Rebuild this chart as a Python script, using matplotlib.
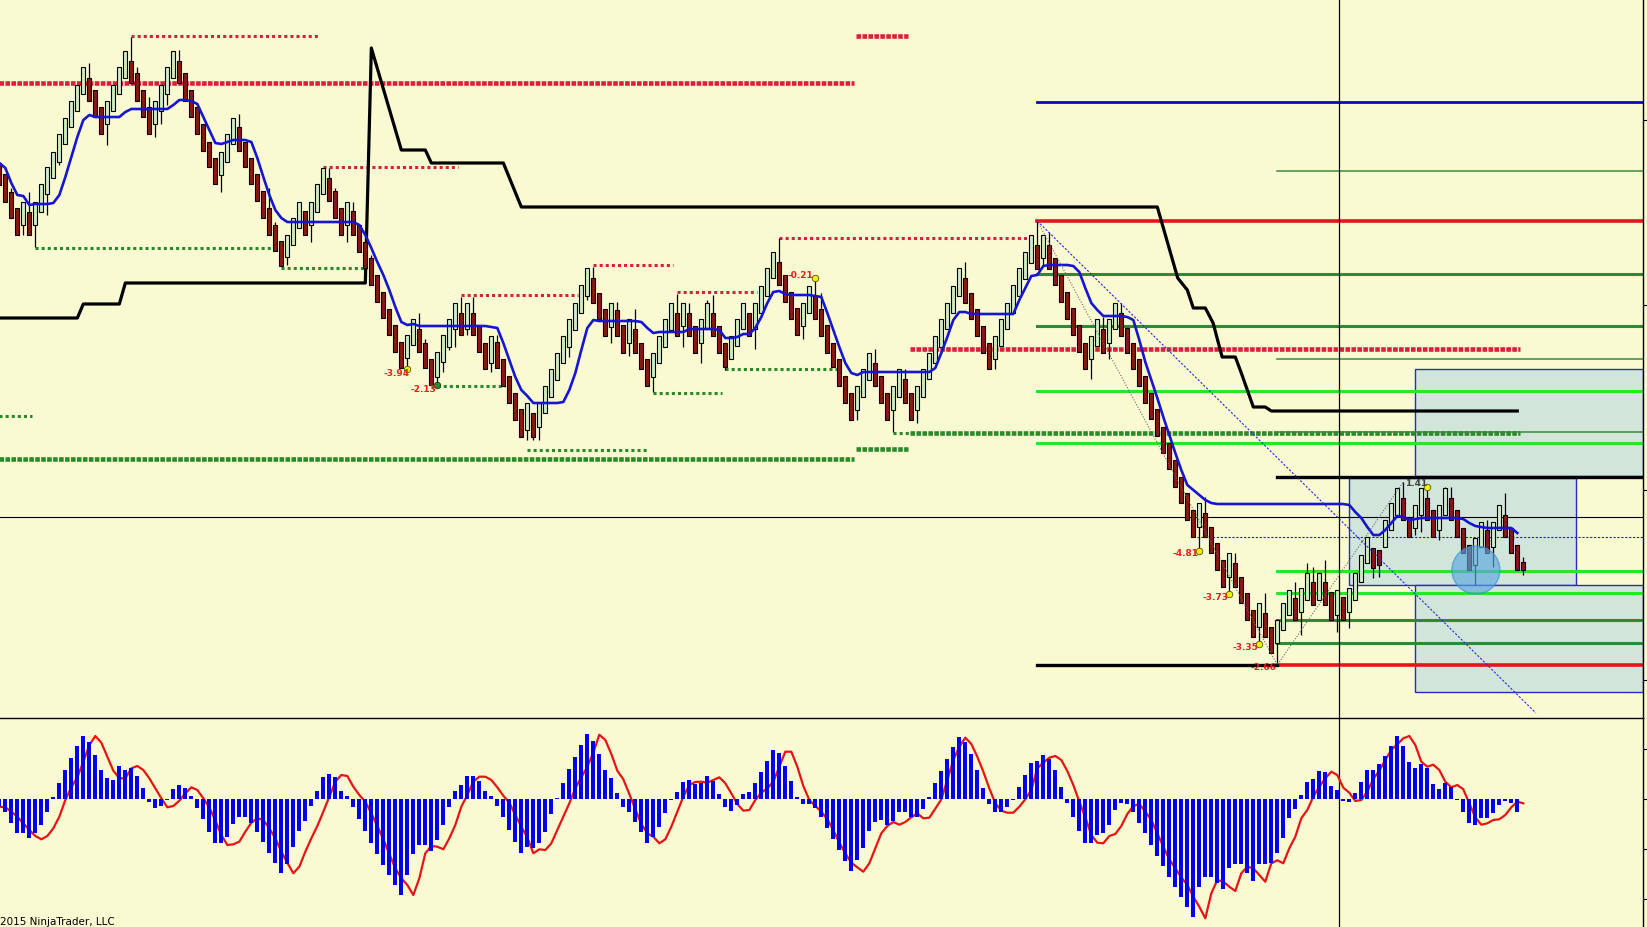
"""Renko-style price chart with swing levels, projection lines and an oscillator panel."""

import matplotlib

matplotlib.use("Agg")
import matplotlib.pyplot as plt
from matplotlib.patches import Ellipse, Rectangle

BG = "#fafad2"

# ---- price bars (one entry per bar) ----
opens = [
    537, 526, 508, 492, 475, 488, 475, 488, 506, 522,
    538, 556, 573, 589, 606, 622, 610, 593, 576, 589,
    606, 622, 639, 627, 610, 593, 576, 589, 606, 622,
    639, 627, 610, 593, 576, 558, 542, 525, 538, 556,
    573, 558, 542, 526, 509, 492, 475, 459, 443, 455,
    472, 489, 475, 488, 506, 522, 509, 492, 475, 489,
    475, 458, 442, 425, 408, 391, 375, 358, 342, 355,
    371, 357, 341, 323, 338, 353, 371, 387, 371, 387,
    375, 357, 337, 358, 341, 324, 307, 291, 270, 287,
    273, 287, 303, 320, 337, 353, 370, 387, 404, 422,
    407, 391, 373, 390, 375, 357, 371, 357, 341, 323,
    337, 353, 370, 387, 374, 387, 374, 357, 371, 387,
    374, 357, 341, 354, 371, 387, 371, 387, 404, 422,
    438, 425, 408, 392, 374, 387, 404, 391, 375, 357,
    341, 324, 307, 290, 303, 320, 337, 324, 307, 290,
    303, 321, 307, 290, 303, 321, 337, 353, 371, 387,
    404, 422, 407, 391, 374, 357, 341, 354, 371, 387,
    404, 421, 437, 455, 442, 455, 442, 425, 408, 392,
    375, 357, 341, 354, 371, 357, 371, 387, 372, 357,
    341, 324, 307, 291, 273, 257, 240, 223, 207, 190,
    173, 187, 173, 157, 140, 123, 137, 123, 107, 90,
    73, 87, 73, 57, 70, 85, 102, 88, 100, 118,
    100, 118, 108, 85, 103, 88, 100, 118, 137, 152,
    150, 153, 170, 185, 202, 183, 172, 185, 202, 190,
    170, 185, 202, 190, 172, 155, 135, 153, 170, 153,
    170, 185, 172, 155, 138,
]
closes = [
    515, 498, 482, 465, 498, 465, 498, 516, 533, 548,
    566, 582, 599, 615, 633, 599, 583, 566, 599, 615,
    633, 649, 617, 599, 583, 566, 599, 615, 633, 649,
    617, 599, 583, 566, 549, 533, 516, 548, 566, 582,
    549, 533, 516, 499, 482, 465, 449, 434, 465, 482,
    498, 465, 498, 516, 532, 499, 482, 465, 498, 465,
    448, 432, 415, 398, 382, 365, 348, 332, 365, 381,
    348, 332, 315, 348, 365, 381, 397, 365, 397, 365,
    348, 331, 364, 332, 314, 297, 280, 263, 297, 263,
    297, 314, 331, 347, 364, 381, 397, 415, 432, 397,
    381, 364, 397, 364, 347, 381, 347, 331, 314, 347,
    364, 381, 397, 364, 397, 364, 347, 381, 397, 364,
    347, 333, 364, 381, 397, 364, 397, 414, 432, 448,
    415, 398, 381, 365, 397, 414, 381, 364, 347, 333,
    314, 297, 280, 314, 331, 347, 314, 297, 280, 314,
    331, 297, 280, 314, 331, 347, 364, 381, 397, 414,
    432, 397, 381, 364, 347, 331, 364, 381, 397, 415,
    432, 448, 465, 431, 465, 431, 415, 398, 381, 365,
    348, 331, 364, 381, 347, 381, 397, 364, 347, 331,
    314, 297, 281, 264, 247, 231, 213, 197, 180, 163,
    197, 163, 147, 130, 113, 147, 113, 97, 80, 63,
    97, 63, 47, 80, 97, 110, 80, 112, 127, 95,
    127, 95, 80, 110, 80, 112, 127, 145, 163, 132,
    135, 180, 197, 212, 180, 163, 195, 212, 180, 163,
    195, 212, 180, 163, 147, 130, 162, 178, 147, 178,
    195, 163, 147, 130, 130,
]
highs = [
    537, 526, 512, 492, 498, 508, 498, 516, 533, 548,
    566, 582, 599, 615, 633, 637, 610, 593, 599, 615,
    633, 649, 663, 633, 610, 603, 599, 615, 633, 649,
    650, 627, 610, 593, 576, 558, 542, 548, 566, 582,
    586, 558, 542, 526, 509, 512, 478, 459, 465, 482,
    498, 489, 498, 516, 532, 532, 512, 492, 498, 498,
    475, 458, 445, 425, 408, 391, 375, 358, 365, 381,
    387, 361, 341, 348, 365, 381, 397, 403, 397, 403,
    375, 357, 364, 365, 341, 324, 307, 291, 297, 287,
    297, 314, 331, 347, 364, 381, 397, 415, 432, 433,
    407, 391, 397, 398, 375, 381, 391, 357, 341, 347,
    364, 381, 397, 406, 397, 397, 374, 381, 400, 405,
    374, 357, 364, 381, 397, 387, 397, 414, 432, 448,
    462, 425, 408, 392, 397, 414, 422, 407, 375, 357,
    341, 324, 307, 314, 331, 347, 351, 324, 307, 314,
    331, 331, 307, 314, 331, 347, 364, 381, 397, 414,
    432, 438, 407, 391, 374, 357, 364, 381, 397, 415,
    432, 448, 465, 480, 465, 468, 442, 425, 408, 392,
    375, 357, 364, 381, 383, 381, 397, 397, 372, 357,
    341, 324, 307, 291, 273, 257, 240, 223, 207, 190,
    197, 203, 173, 157, 140, 147, 147, 123, 107, 90,
    97, 107, 73, 80, 97, 110, 118, 112, 137, 133,
    127, 140, 108, 110, 103, 112, 127, 145, 163, 152,
    150, 180, 197, 212, 218, 183, 195, 212, 213, 190,
    195, 213, 213, 190, 172, 155, 162, 178, 180, 178,
    195, 207, 172, 155, 143,
]
lows = [
    515, 498, 482, 465, 465, 465, 453, 488, 485, 522,
    535, 556, 573, 589, 606, 599, 583, 566, 555, 589,
    606, 622, 617, 599, 583, 566, 563, 576, 595, 622,
    617, 599, 583, 566, 549, 533, 516, 508, 538, 556,
    549, 533, 516, 499, 482, 465, 449, 434, 435, 455,
    472, 465, 458, 488, 506, 499, 482, 465, 458, 465,
    448, 432, 415, 398, 382, 365, 348, 332, 331, 355,
    348, 332, 315, 315, 328, 350, 353, 365, 365, 365,
    348, 331, 328, 332, 314, 297, 280, 263, 260, 260,
    260, 287, 303, 320, 337, 343, 370, 387, 400, 397,
    381, 364, 357, 364, 347, 344, 347, 331, 314, 308,
    337, 353, 370, 364, 353, 364, 347, 337, 371, 364,
    347, 330, 341, 354, 371, 364, 351, 387, 404, 422,
    415, 398, 381, 365, 361, 387, 381, 364, 347, 333,
    314, 297, 280, 280, 303, 320, 314, 297, 280, 268,
    303, 297, 280, 277, 303, 321, 337, 353, 371, 387,
    404, 397, 381, 364, 347, 331, 331, 354, 371, 387,
    404, 421, 437, 431, 435, 431, 415, 398, 381, 365,
    348, 331, 321, 354, 347, 341, 371, 364, 347, 331,
    314, 297, 281, 264, 247, 231, 213, 197, 180, 163,
    149, 163, 147, 130, 113, 106, 113, 97, 80, 63,
    56, 63, 47, 37, 70, 85, 80, 65, 100, 95,
    100, 95, 80, 68, 80, 72, 100, 118, 137, 122,
    123, 153, 170, 185, 180, 163, 165, 168, 180, 163,
    160, 185, 180, 163, 147, 130, 115, 153, 147, 133,
    170, 163, 147, 130, 125,
]

# blue moving average over the bars
ma_line = [
    537, 532, 517, 505, 504, 495, 496, 496, 496, 497,
    505, 523, 543, 563, 580, 585, 583, 583, 583, 583,
    583, 588, 591, 591, 591, 591, 591, 591, 591, 595,
    600, 600, 599, 596, 583, 570, 557, 556, 558, 560,
    560, 560, 558, 542, 523, 505, 490, 482, 478, 478,
    478, 478, 478, 478, 478, 478, 478, 478, 478, 478,
    475, 465, 452, 438, 425, 410, 393, 378, 375, 376,
    374, 374, 374, 374, 374, 374, 374, 374, 374, 374,
    374, 374, 373, 372, 357, 340, 323, 310, 304, 297,
    297, 297, 297, 297, 298, 310, 327, 350, 372, 380,
    379, 379, 379, 379, 379, 379, 379, 378, 372, 367,
    368, 368, 368, 368, 368, 371, 371, 371, 371, 371,
    370, 362, 362, 363, 366, 366, 372, 383, 397, 408,
    409, 406, 405, 405, 405, 405, 404, 403, 387, 370,
    353, 337, 327, 325, 328, 328, 328, 328, 328, 328,
    328, 328, 328, 328, 328, 328, 332, 347, 363, 380,
    388, 388, 386, 386, 386, 386, 386, 386, 386, 386,
    400, 412, 424, 425, 434, 435, 435, 435, 435, 434,
    428, 412, 397, 390, 384, 384, 384, 384, 383, 380,
    360, 338, 320, 302, 283, 265, 247, 230, 215, 210,
    205, 200, 197, 196, 196, 196, 196, 196, 196, 196,
    196, 196, 196, 196, 196, 196, 196, 196, 196, 196,
    196, 196, 196, 196, 196, 195, 188, 182, 173, 165,
    165, 170, 177, 184, 183, 180, 181, 182, 182, 182,
    182, 182, 182, 182, 181, 177, 174, 173, 172, 172,
    172, 172, 172, 167,
]

# black trailing stop (bar, price) breakpoints
trail_bars = [0, 13, 14, 20, 21, 61, 62, 67, 71, 72, 84, 87, 193, 196.4, 198, 199,
              201, 202.3, 203.8, 206, 207, 209, 211, 212, 253]
trail_vals = [382, 382, 396, 396, 417, 417, 652, 550, 550, 537, 537, 493, 493, 422, 410, 392,
              392, 377, 343, 343, 327, 293, 293, 289, 289]

# oscillator panel
hist = [
    -7, -12.7, -23.7, -34.3, -34.3, -39.3, -34.3, -25.7, -12.7, 2.3,
    16.3, 29, 40.7, 53, 63, 56.7, 44, 29, 20.7, 19,
    33, 29, 30.7, 23, 10.7, -2.7, -8.7, -6.7, -0.5, 9.7,
    14, 10.7, 3, -8.7, -20.3, -32.7, -44.3, -44.3, -37.7, -25,
    -18.3, -18.3, -23.7, -32.7, -42.7, -53.7, -63.7, -73.7, -65, -48.3,
    -31.7, -21.7, -6.7, 8, 21.7, 25, 22.3, 8, 3, -7.7,
    -19.7, -31.7, -43.7, -55, -65.7, -75.7, -85.7, -95.7, -75.7, -55,
    -45.7, -46.3, -51.7, -41, -25.7, -7.7, 8.3, 14, 23, 23,
    18.3, 8, 3, -7, -18.3, -31, -42.7, -53.7, -47.7, -49.3,
    -43.7, -32.7, -15.3, 1.3, 15.7, 29.7, 41.7, 54, 65, 58,
    45, 29, 20.7, 5.7, -7.7, -12.7, -22.7, -32.7, -43.7, -38.3,
    -27.7, -14.3, -1, 6.7, 17.3, 19, 15, 16.3, 23, 18,
    5, -8.3, -12, -6, 4.7, 6.7, 15.7, 27.3, 38, 49,
    45.7, 33.3, 18, 1.7, -5, -5, -8.7, -17.7, -28.7, -40.3,
    -51, -61.7, -71.7, -61, -48.7, -31.7, -23.3, -21, -26, -21.7,
    -12.7, -12.7, -18.3, -17.7, -10.3, 2.3, 15.7, 28, 39.7, 52.3,
    61.7, 56.7, 45, 29, 11.3, -5.3, -12.7, -12.7, -7.7, -1,
    11.7, 24, 36.3, 38.3, 44, 40, 29, 11.7, -3.7, -18.3,
    -31.7, -43.7, -43.7, -36, -34.3, -26, -11, -3.7, -5, -12.7,
    -23.7, -34.3, -46, -57, -67, -77.7, -87.7, -97.7, -107.7, -117.7,
    -87.7, -77.7, -77.7, -83.7, -90.3, -69.3, -65, -65, -73.7, -81.7,
    -65, -65, -64.3, -53.7, -39.3, -19.3, -10, 4, 17.3, 20,
    28, 27.3, 13, 9, -1.7, -2.7, 5.7, 17, 29, 29,
    35, 43, 53, 63, 53, 37.3, 30.7, 35, 30.7, 15,
    9.7, 15.7, 11.7, -1, -12.7, -24.3, -26, -19.3, -19.3, -14.3,
    -6, -1.7, -4.3, -12.7,
]
signal = [
    -7.7, -8.3, -12.7, -17.7, -24.3, -31, -37, -40.3, -37, -29.3,
    -17.7, -1, 11.7, 21.7, 37.3, 54, 63, 56.3, 42.3, 28.3,
    20.7, 20.7, 30.7, 33, 29, 20.7, 10.7, 0.7, -8.3, -7,
    -1.7, 5.7, 11.7, 9, 0.7, -8.3, -21.7, -36, -46, -45.3,
    -42.7, -32.7, -23.7, -19.3, -21, -29.3, -39.3, -52.7, -63.7, -74.3,
    -67.7, -52.7, -39.3, -27, -12.7, 2.3, 17.3, 24, 23, 12.3,
    4, -2.7, -14.3, -27, -40.3, -55, -69.3, -79.3, -86, -96,
    -79.3, -54.3, -47, -47.7, -50.3, -39.3, -26, -7.7, 4, 17.3,
    22.3, 22.3, 19, 11.7, 3.3, -3.7, -16, -27.7, -38.3, -54.3,
    -50.3, -51, -44.3, -31, -17.7, -4.3, 10.7, 21.7, 32.3, 46.3,
    64.3, 59, 45, 28.3, 19.7, 5, -10.3, -25, -34.3, -37.7,
    -44.3, -40.3, -27.7, -12.7, 2.3, 14, 17, 17.3, 16.3, 19,
    21.7, 15.7, 5.7, -5, -11.7, -11, -1, 6.3, 10.7, 17.3,
    32.3, 47.3, 47.3, 32.3, 13, -1, -7, -12.7, -20.3, -31,
    -43.7, -54.3, -63.7, -68.3, -72.7, -64.3, -49.3, -34.3, -27, -23,
    -25.7, -23, -18.3, -14.3, -19.3, -18.7, -9.7, -0.3, 19, 39,
    52.3, 61.3, 55, 42.3, 27.3, 10.7, -4.3, -11.7, -13.7, -13.7,
    -7.7, -0.3, 9, 30.7, 36.3, 41.3, 43, 39, 28, 14,
    -2.7, -18.3, -36, -43.7, -44.3, -37, -35, -27, -15, -7,
    -5, -12.7, -21, -34.3, -47.7, -60.3, -69.3, -78.3, -86, -97.7,
    -107.7, -119.3, -94.3, -81, -82.7, -87.7, -92, -74.3, -67.7, -69.3,
    -76, -82.7, -64.3, -61.3, -64.3, -49.3, -37.7, -19.3, -11, 2.3,
    12.3, 20.7, 27.3, 24, 11.3, 6.3, -2, -1, 7.3, 20,
    28.3, 39, 49, 54.7, 60.7, 63, 54, 37.3, 32.3, 34.3,
    29, 17.3, 11.7, 14, 9.7, -4.3, -18.3, -25.7, -24.3, -21,
    -20.3, -16, -8.3, -2.7, -4.3,
]

# swing-level dots: (price, first bar, last bar)
red_dots_thin = [(664, 22, 53.4), (533, 54, 76.4), (405, 77, 96.4), (435, 99, 112.3),
                 (408, 113, 126.3), (462, 130, 171.6)]
red_dots_thick = [(617, 0, 142.4), (664, 142.8, 151.4), (351, 151.8, 253.4)]
green_dots_thin = [(452, 6, 45.6), (432, 47, 61.3), (314, 72, 84.3), (250, 88, 108.3),
                   (284, 0, 5.4), (307, 109, 120.4), (331, 121, 140.1), (267, 149, 151.8)]
green_dots_thick = [(241, 0, 142.4), (251, 142.8, 151.4), (267, 151.8, 253.4)]

# projection levels: (price, first bar, last bar)
RIGHT = 274
blue_levels = [(598, 173, RIGHT)]
red_levels = [(479, 173, RIGHT), (35, 213, RIGHT)]
dark_green_levels = [(426, 173, RIGHT), (374, 173, RIGHT), (80, 213, RIGHT), (57, 213, RIGHT)]
lime_levels = [(309, 173, RIGHT), (257, 173, RIGHT), (129, 213, RIGHT), (107, 213, RIGHT)]
thin_green_levels = [(529, 213, RIGHT), (341, 213, RIGHT), (268, 213, RIGHT)]
black_levels = [(223, 213, RIGHT), (35, 173, 213)]
dashed_level = (163, 199, RIGHT)

# drawing objects
zones = [(235.9, 224, 273.9, 331), (224.9, 115, 262.8, 222), (235.9, 8, 274.0, 115)]
ray_bars, ray_vals = [173, 256.1], [479, -13]
zigzag_bars, zigzag_vals = [173, 213, 234], [479, 35, 218]

swing_labels = [("-3.94", 68.3, 327), ("-2.13", 72.8, 311), ("-0.21", 135.6, 424),
                ("-4.81", 199.8, 146), ("-3.73", 204.8, 102), ("-3.35", 209.8, 52),
                ("-2.66", 212.9, 32)]
yellow_dot_bars = [68, 136, 200, 205, 210, 238]
yellow_dot_vals = [331, 422, 149, 106, 56, 213]
cross_bar, cross_price = 223.3, 183


def draw_levels(ax, levels, **style):
    for price, x0, x1 in levels:
        ax.plot([x0, x1], [price, price], **style)


def main():
    fig = plt.figure(figsize=(16.47, 9.27), dpi=100, facecolor=BG)
    w = 1643 / 1647
    ax = fig.add_axes([0, 209 / 927, w, 718 / 927], facecolor=BG)
    axl = fig.add_axes([0, 0, w, 209 / 927], facecolor=BG)

    for a in (ax, axl):
        a.set_xlim(0.11, 273.95)
        for side in ("left", "top", "bottom"):
            a.spines[side].set_visible(False)
        a.spines["right"].set_color("black")
        a.spines["right"].set_linewidth(1)
        a.set_xticks([])
        a.yaxis.tick_right()
        a.tick_params(axis="y", direction="out", length=4, labelright=False, width=0.8)
    axl.spines["top"].set_visible(True)
    axl.spines["top"].set_linewidth(1)
    ax.set_ylim(-18, 700)
    axl.set_ylim(-128, 81)
    ax.set_yticks([580, 395, 210, 20])
    axl.set_yticks([50, 0, -50, -100])

    # zones
    for x0, y0, x1, y1 in zones:
        ax.add_patch(Rectangle((x0, y0), x1 - x0, y1 - y0, facecolor="#d2e5da",
                               edgecolor="#2a2ac8", linewidth=1, zorder=1))

    # swing dots
    thin = dict(linestyle=(0, (1, 1)), linewidth=2.2, solid_capstyle="butt",
                dash_capstyle="butt", zorder=2)
    thick = dict(linestyle=(0, (1, 0.3)), linewidth=3.3, solid_capstyle="butt",
                 dash_capstyle="butt", zorder=2)
    draw_levels(ax, red_dots_thin, color="#d8203c", **thin)
    draw_levels(ax, red_dots_thick, color="#d8203c", **thick)
    draw_levels(ax, green_dots_thin, color="#2a8a2a", **thin)
    draw_levels(ax, green_dots_thick, color="#2a8a2a", **thick)

    # projection levels
    draw_levels(ax, blue_levels, color="#0808c8", linewidth=2.0, zorder=2)
    draw_levels(ax, red_levels, color="#e8141c", linewidth=2.6, zorder=2)
    draw_levels(ax, dark_green_levels, color="#2e8a36", linewidth=2.2, zorder=2)
    draw_levels(ax, lime_levels, color="#2ae62a", linewidth=2.2, zorder=2)
    draw_levels(ax, thin_green_levels, color="#3a8a3a", linewidth=1.1, zorder=2)
    draw_levels(ax, black_levels, color="black", linewidth=2.4, zorder=2)
    price, x0, x1 = dashed_level
    ax.plot([x0, x1], [price, price], color="#2020d0", linewidth=0.8,
            linestyle=(0, (2, 1.5)), zorder=2)

    # crosshair
    ax.axhline(cross_price, color="black", linewidth=0.8, zorder=2)
    ax.axvline(cross_bar, color="black", linewidth=0.9, zorder=2)
    axl.axvline(cross_bar, color="black", linewidth=0.9, zorder=2)

    # trailing stop
    ax.plot(trail_bars, trail_vals, color="black", linewidth=2.3, zorder=3)

    # candles
    xs = list(range(len(opens)))
    ax.vlines(xs, lows, highs, color="black", linewidth=0.9, zorder=4)
    bottoms = [min(o, c) for o, c in zip(opens, closes)]
    heights = [abs(c - o) for o, c in zip(opens, closes)]
    colors = ["#cfecc8" if c >= o else "#8a1818" for o, c in zip(opens, closes)]
    ax.bar(xs, heights, bottom=bottoms, width=0.62, color=colors,
           edgecolor="black", linewidth=0.8, zorder=5)

    # moving average
    ax.plot(range(len(ma_line)), ma_line, color="#1616d2", linewidth=1.9, zorder=6)

    # diagonal drawings
    ax.plot(ray_bars, ray_vals, color="#2a2ae0", linewidth=0.8,
            linestyle=(0, (2, 1.5)), zorder=6)
    ax.plot(zigzag_bars, zigzag_vals, color="#6a6a6a", linewidth=0.8,
            linestyle=(0, (1, 1.5)), zorder=6)

    ax.add_patch(Ellipse((246.1, 130), 8, 48, facecolor="#5aa6e0", alpha=0.65,
                         edgecolor="#3a8ed8", linewidth=1, zorder=7))

    # swing markers and labels
    ax.scatter(yellow_dot_bars, yellow_dot_vals, s=22, color="#f4f000",
               edgecolors="#555500", linewidths=0.6, zorder=8)
    ax.scatter([73], [315], s=22, color="#2a8a2a", edgecolors="#114411",
               linewidths=0.6, zorder=8)
    for text, bar, price in swing_labels:
        ax.text(bar, price, text, color="#e8201c", fontsize=6.5, fontweight="bold",
                ha="right", va="center", zorder=9)
    ax.text(234.3, 217, "1.41", color="#404040", fontsize=6.5, fontweight="bold",
            ha="left", va="center", zorder=9)

    # oscillator
    axl.plot(range(len(signal)), signal, color="#e81414", linewidth=1.6, zorder=2)
    axl.bar(range(len(hist)), hist, width=0.7, color="#0000f0", zorder=3)

    fig.text(0.0, 0.0, "2015 NinjaTrader, LLC", fontsize=7.5, ha="left", va="bottom")

    fig.savefig("out.png", dpi=100, facecolor=BG)
    plt.close(fig)


if __name__ == "__main__":
    main()
